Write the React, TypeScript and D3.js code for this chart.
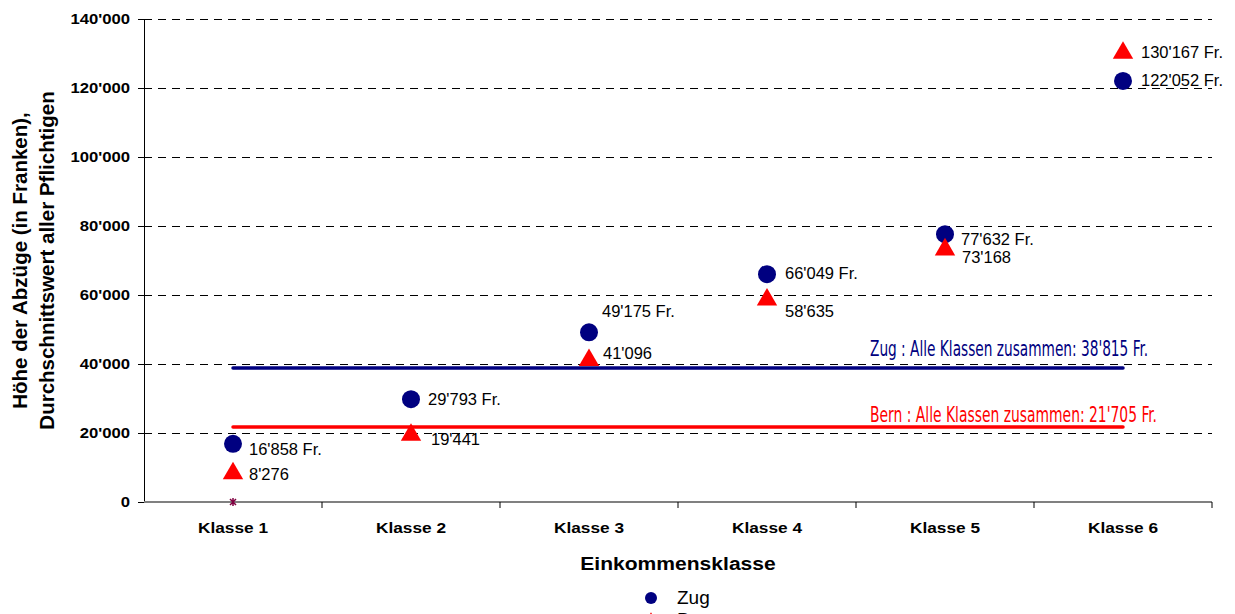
import { useEffect, useRef } from "react";
import * as d3 from "d3";

const categories = ["Klasse 1", "Klasse 2", "Klasse 3", "Klasse 4", "Klasse 5", "Klasse 6"];
const zugValues = [16858, 29793, 49175, 66049, 77632, 122052];
const bernValues = [8276, 19441, 41096, 58635, 73168, 130167];
const zugSuffix = [" Fr.", " Fr.", " Fr.", " Fr.", " Fr.", " Fr."];
const bernSuffix = ["", "", "", "", "", " Fr."];
const yTicks = [0, 20000, 40000, 60000, 80000, 100000, 120000, 140000];
const zugAverage = 38815;
const bernAverage = 21705;

// label offsets (dx, baseline dy) relative to marker centre
const zugLabelOffsets = [[16, 11], [17, 6], [13, -15], [18, 5], [16, 11], [18, 5]];
const bernLabelOffsets = [[16, 7], [20, 10], [14, -1], [18, 17], [17, 13], [18, 5]];

const fmt = (v: number) => d3.format(",")(v).replace(/,/g, "'");

// widen text horizontally (reference fonts are a bit wider than Arial)
function stretch(sel: d3.Selection<any, any, any, any>, k: number) {
  sel.each(function () {
    const n = this as SVGTextElement;
    const w = n.getComputedTextLength();
    n.setAttribute("textLength", String(w * k));
    n.setAttribute("lengthAdjust", "spacingAndGlyphs");
  });
}

export default function App() {
  const svgRef = useRef<SVGSVGElement>(null);

  useEffect(() => {
    const svg = svgRef.current;
    if (!svg) return;
    const width = 1235;
    const height = 614;
    const margin = { top: 19, right: 23, bottom: 112, left: 144 };
    const innerW = width - margin.left - margin.right;
    const innerH = height - margin.top - margin.bottom;

    d3.select(svg).selectAll("*").remove();

    const x = d3.scaleBand().domain(categories).range([0, innerW]);
    const y = d3.scaleLinear().domain([0, 140000]).range([innerH, 0]);
    const cx = (c: string) => (x(c) ?? 0) + x.bandwidth() / 2;

    const font = "Liberation Sans, Arial, sans-serif";

    const g = d3
      .select(svg)
      .append("g")
      .attr("transform", `translate(${margin.left},${margin.top})`);

    // grid
    g.append("g")
      .selectAll("line")
      .data(yTicks.filter((t) => t > 0))
      .join("line")
      .attr("x1", 0)
      .attr("x2", innerW)
      .attr("y1", (d) => y(d))
      .attr("y2", (d) => y(d))
      .attr("stroke", "#000")
      .attr("stroke-width", 1)
      .attr("stroke-dasharray", "8,6")
      .attr("shape-rendering", "crispEdges");

    // y axis
    g.append("g")
      .call(d3.axisLeft(y).tickValues(yTicks).tickSize(6).tickPadding(8).tickFormat((d) => fmt(+d)))
      .call((a) => a.select(".domain").attr("stroke", "#000").attr("stroke-width", 1))
      .call((a) => a.selectAll(".tick line").attr("stroke", "#000"))
      .call((a) =>
        a
          .selectAll(".tick text")
          .attr("font-family", font)
          .attr("font-weight", "bold")
          .attr("font-size", "14.5px")
          .attr("fill", "#000")
      )
      .call((a) => stretch(a.selectAll(".tick text"), 1.15));

    // x axis
    const xa = g.append("g").attr("transform", `translate(0,${innerH})`);
    xa.append("line")
      .attr("x1", 0)
      .attr("x2", innerW)
      .attr("stroke", "#808080")
      .attr("stroke-width", 2);
    xa.selectAll(".xt")
      .data(d3.range(1, categories.length + 1))
      .join("line")
      .attr("x1", (i) => i * x.bandwidth())
      .attr("x2", (i) => i * x.bandwidth())
      .attr("y1", 0)
      .attr("y2", 6)
      .attr("stroke", "#000");
    const xl = xa
      .selectAll("text")
      .data(categories)
      .join("text")
      .attr("x", (d) => cx(d))
      .attr("y", 31)
      .attr("text-anchor", "middle")
      .attr("font-family", font)
      .attr("font-weight", "bold")
      .attr("font-size", "15px")
      .text((d) => d);
    stretch(xl, 1.15);

    // axis titles
    const xt = g
      .append("text")
      .attr("x", innerW / 2)
      .attr("y", innerH + 68)
      .attr("text-anchor", "middle")
      .attr("font-family", font)
      .attr("font-weight", "bold")
      .attr("font-size", "18px")
      .text("Einkommensklasse");
    stretch(xt, 1.17);

    const yt = g
      .append("text")
      .attr("transform", `translate(-117,${innerH / 2}) rotate(-90)`)
      .attr("text-anchor", "middle")
      .attr("font-family", font)
      .attr("font-weight", "bold")
      .attr("font-size", "20.5px");
    yt.append("tspan").attr("x", 0).attr("dy", 0).text("Höhe der Abzüge (in Franken),");
    yt.append("tspan").attr("x", 0).attr("dy", 27).text("Durchschnittswert aller Pflichtigen");

    // average lines
    const first = cx(categories[0]);
    const last = cx(categories[categories.length - 1]);
    const avg = [
      { v: zugAverage, color: "#000080", dy: -12, len: 278, label: `Zug : Alle Klassen zusammen: ${fmt(zugAverage)} Fr.` },
      { v: bernAverage, color: "#FF0000", dy: -5, len: 287, label: `Bern : Alle Klassen zusammen: ${fmt(bernAverage)} Fr.` },
    ];
    avg.forEach((a) => {
      g.append("line")
        .attr("x1", first)
        .attr("x2", last)
        .attr("y1", y(a.v))
        .attr("y2", y(a.v))
        .attr("stroke", a.color)
        .attr("stroke-width", 3.5)
        .attr("stroke-linecap", "round");
      g.append("text")
        .attr("x", 726)
        .attr("y", y(a.v) + a.dy)
        .attr("font-family", "Liberation Sans Narrow, DejaVu Sans Condensed, sans-serif")
        .attr("font-stretch", "condensed")
        .attr("font-size", "21px")
        .attr("fill", a.color)
        .attr("textLength", a.len)
        .attr("lengthAdjust", "spacingAndGlyphs")
        .text(a.label);
    });

    // tiny zero marker
    const zx = first;
    const zy = y(0);
    g.append("path")
      .attr("d", `M${zx - 3},${zy - 3}L${zx + 3},${zy + 3}M${zx - 3},${zy + 3}L${zx + 3},${zy - 3}M${zx},${zy - 4}L${zx},${zy + 4}`)
      .attr("stroke", "#800040")
      .attr("stroke-width", 1.5);

    const tri = d3.symbol().type(d3.symbolTriangle).size(180);

    // Zug points
    g.selectAll(".zug")
      .data(zugValues)
      .join("circle")
      .attr("cx", (_, i) => cx(categories[i]))
      .attr("cy", (d) => y(d))
      .attr("r", 9)
      .attr("fill", "#000080");

    // Bern points
    g.selectAll(".bern")
      .data(bernValues)
      .join("path")
      .attr("d", tri)
      .attr("transform", (d, i) => `translate(${cx(categories[i])},${y(d)})`)
      .attr("fill", "#FF0000");

    g.selectAll(".zl")
      .data(zugValues)
      .join("text")
      .attr("x", (_, i) => cx(categories[i]) + zugLabelOffsets[i][0])
      .attr("y", (d, i) => y(d) + zugLabelOffsets[i][1])
      .attr("font-family", font)
      .attr("font-size", "16.5px")
      .text((d, i) => fmt(d) + zugSuffix[i]);

    g.selectAll(".bl")
      .data(bernValues)
      .join("text")
      .attr("x", (_, i) => cx(categories[i]) + bernLabelOffsets[i][0])
      .attr("y", (d, i) => y(d) + bernLabelOffsets[i][1])
      .attr("font-family", font)
      .attr("font-size", "16.5px")
      .text((d, i) => fmt(d) + bernSuffix[i]);

    // legend (cut by bottom edge, like the reference)
    const lg = d3.select(svg).append("g").attr("transform", "translate(651,598)");
    lg.append("circle").attr("r", 6).attr("fill", "#000080");
    lg.append("text")
      .attr("x", 26)
      .attr("y", 6)
      .attr("font-family", font)
      .attr("font-size", "19px")
      .text("Zug");
    lg.append("path")
      .attr("d", d3.symbol().type(d3.symbolTriangle).size(60)())
      .attr("transform", "translate(0,21)")
      .attr("fill", "#FF0000");
    lg.append("text")
      .attr("x", 26)
      .attr("y", 28)
      .attr("font-family", font)
      .attr("font-size", "19px")
      .text("Bern");
  }, []);

  return (
    <svg
      ref={svgRef}
      width={1235}
      height={614}
      style={{ position: "absolute", left: 0, top: 0, background: "#fff" }}
    />
  );
}
